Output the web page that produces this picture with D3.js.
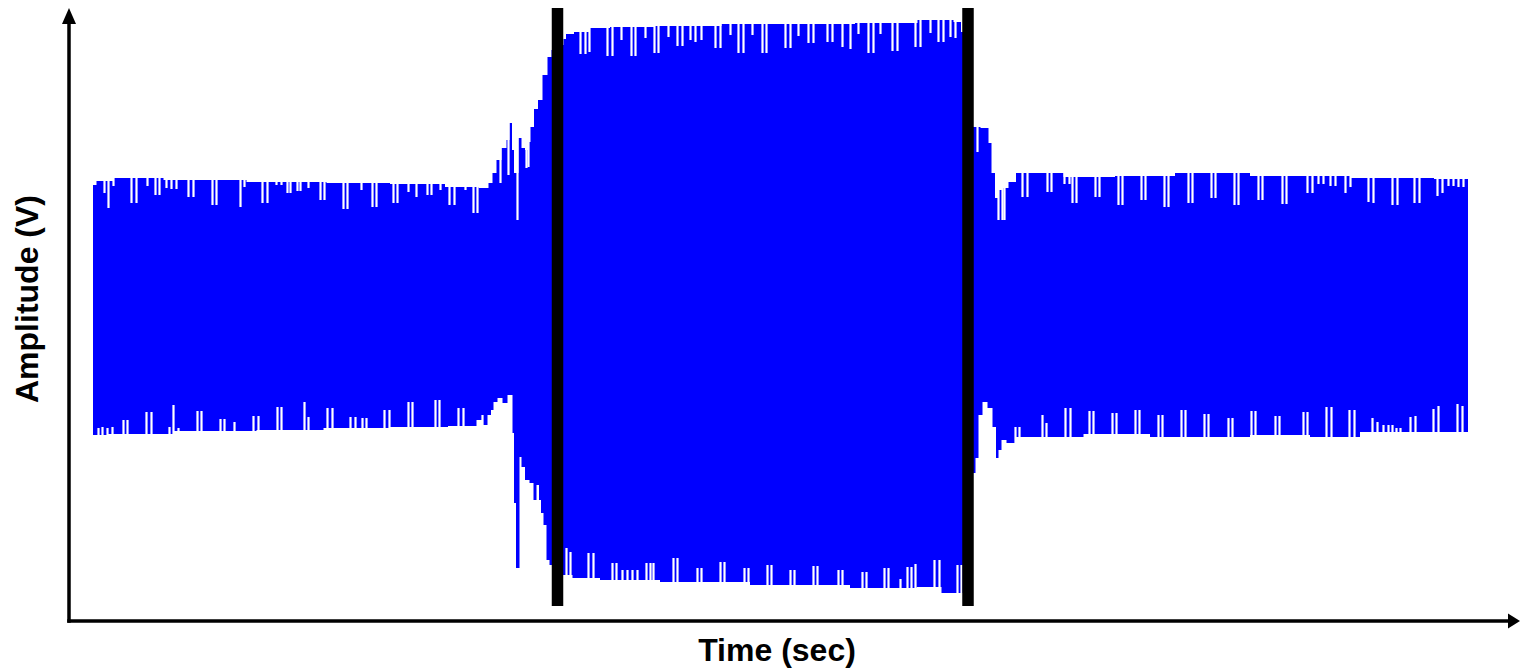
<!DOCTYPE html>
<html>
<head>
<meta charset="utf-8">
<script src="https://cdn.jsdelivr.net/npm/d3@7"></script>
<style>
  html, body { margin: 0; padding: 0; background: #fff; }
  svg { display: block; }
</style>
</head>
<body>
<div id="chart"></div>
<script>
// time in ms, amplitude in mV (arbitrary units, no ticks on the plot)
const upperEnvelope = [
  [24,122],[31,126],[58,129],[131,127],[224,125],[291,124],[351,123],[401,120],[418,119],
  [421,124],[426,134],[429,147],[436,159],[439,167],[442,184],[444,157],[446,134],[448,134],
  [451,169],[454,159],[458,157],[460,165],[463,180],[467,198],[471,207],[476,232],[481,250],[484,257],
  [494,262],[495,268],[499,273],[511,275],[529,279],[553,280],[619,281],[686,283],[753,283],
  [819,284],[878,287],[891,285],[893,275],[899,230],
  [905,180],[918,179],[921,164],[924,134],[928,109],[931,117],[936,119],[943,125],[951,134],
  [978,134],[1011,130],[1081,131],[1131,134],[1231,131],[1331,129],[1399,128]
];
const lowerEnvelope = [
  [24,-128],[54,-127],[154,-124],[221,-123],[288,-121],[354,-120],[404,-119],[411,-113],[416,-118],
  [421,-108],[423,-103],[426,-95],[431,-91],[436,-96],[441,-88],[443,-88],[444,-126],[446,-196],
  [448,-261],[450,-261],[451,-150],[454,-160],[458,-173],[463,-176],[466,-193],[469,-178],[471,-193],
  [473,-206],[476,-218],[479,-253],[482,-258],
  [496,-268],[511,-271],[551,-273],[631,-275],[731,-278],[831,-281],[864,-280],[881,-286],[892,-286],[899,-230],
  [905,-166],[908,-151],[911,-108],[916,-95],[921,-101],[926,-120],[928,-151],[931,-143],[934,-133],
  [941,-136],[951,-130],[998,-130],[1031,-127],[1131,-130],[1231,-128],[1251,-130],[1331,-125],[1399,-125]
];
// samples that fall short of the upper envelope (time, peak)
const upperDips = [
  [35,114],[39,99],[44,121],[62,104],[67,104],[78,121],[86,112],[90,112],[97,119],[102,118],[107,118],
  [119,110],[124,110],[143,102],[147,102],[171,100],[175,120],[193,104],[198,104],[207,122],[212,122],
  [218,114],[221,114],[228,116],[231,116],[239,119],[251,107],[255,107],[274,98],[278,98],[292,117],
  [303,100],[307,100],[324,104],[328,104],[339,115],[347,110],[358,112],[362,112],[371,117],[380,102],
  [385,102],[396,117],[404,94],[408,94],
  [431,124],[439,132],[448,87],[457,139],[459,140],
  [511,253],[516,253],[520,255],[538,251],[543,251],[552,267],[562,251],[566,251],[576,269],[585,254],
  [589,254],[599,270],[608,261],[613,261],[621,267],[626,265],[632,267],[646,259],[651,259],[661,272],
  [669,254],[674,254],[683,272],[693,254],[697,254],[716,259],[721,259],[729,271],[739,264],[744,264],
  [758,265],[763,265],[773,260],[781,258],[789,273],[799,254],[804,254],[811,273],[823,256],[828,256],
  [846,260],[851,260],[861,274],[869,265],[874,265],[881,270],[886,269],
  [908,155],[929,87],[933,87],[935,87],[953,110],[958,110],[978,115],[982,115],[995,123],[1000,123],
  [1003,104],[1007,104],[1026,110],[1030,110],[1049,102],[1053,102],[1072,107],[1076,107],[1095,100],
  [1099,100],[1119,104],[1123,104],[1142,109],[1146,109],[1165,102],[1169,102],[1189,107],[1193,107],
  [1213,103],[1217,103],[1238,114],[1243,114],[1249,123],[1254,123],[1261,121],[1266,121],[1276,114],
  [1281,120],[1299,105],[1304,104],[1323,102],[1328,102],[1345,104],[1350,104],[1368,111],[1373,114],
  [1379,121],[1384,121],[1389,120],[1394,120]
];
// samples that fall short of the lower envelope (time, trough)
const lowerDips = [
  [29,-121],[33,-120],[38,-121],[43,-120],[54,-113],[58,-113],[77,-105],[82,-105],[100,-120],[104,-98],
  [109,-121],[128,-104],[132,-104],[151,-112],[155,-112],[165,-115],[184,-109],[189,-109],[208,-100],
  [212,-100],[235,-95],[239,-110],[258,-101],[263,-101],[281,-110],[286,-110],[293,-111],[297,-111],
  [315,-103],[320,-103],[339,-95],[343,-95],[366,-93],[370,-93],[389,-101],[394,-101],[413,-108],
  [497,-241],[501,-245],[519,-246],[524,-246],[543,-256],[547,-256],[553,-263],[558,-263],[563,-263],
  [568,-263],[577,-256],[581,-256],[584,-256],[604,-251],[608,-251],[628,-261],[632,-261],[651,-255],
  [655,-255],[675,-261],[679,-261],[698,-258],[702,-258],[721,-263],[725,-263],[744,-259],[748,-259],
  [769,-263],[773,-263],[793,-265],[797,-265],[815,-261],[819,-261],[831,-272],[838,-260],[842,-260],
  [846,-257],[865,-253],[870,-253],[888,-258],[892,-258],
  [946,-120],[950,-120],[973,-108],[977,-116],[996,-101],[1001,-101],[1020,-104],[1024,-104],
  [1043,-106],[1047,-106],[1066,-103],[1070,-103],[1089,-108],[1093,-108],[1112,-103],[1116,-103],
  [1135,-107],[1139,-107],[1159,-111],[1163,-111],[1182,-104],[1186,-104],[1206,-109],[1210,-109],
  [1234,-105],[1238,-105],[1257,-100],[1262,-100],[1280,-103],[1285,-103],[1303,-111],[1308,-115],
  [1314,-118],[1319,-118],[1323,-118],[1327,-121],[1331,-121],[1341,-110],[1346,-109],[1364,-102],
  [1369,-99],[1388,-97],[1393,-99]
];
// event markers (time)
const markerTimes = [488.5, 899];
const markerSpan = [299, -299];

const xLabel = "Time (sec)";
const yLabel = "Amplitude (V)";

const width = 1520, height = 670;

const svg = d3.select("#chart").append("svg").attr("width", width).attr("height", height);

const x = d3.scaleLinear().domain([0, 1450]).range([69, 1519]);
const y = d3.scaleLinear().domain([-314, 297]).range([621, 10]);

const blue = "#0000ff";

// envelope, drawn as two halves meeting at zero; stepped like the sampled trace
const upperArea = d3.area()
  .curve(d3.curveStep)
  .x(d => x(d[0]))
  .y0(y(-20))
  .y1(d => y(d[1]));
const lowerArea = d3.area()
  .curve(d3.curveStep)
  .x(d => x(d[0]))
  .y0(y(20))
  .y1(d => y(d[1]));

const waveG = svg.append("g").attr("class", "wave");
waveG.append("path").datum(upperEnvelope).attr("d", upperArea).attr("fill", blue);
waveG.append("path").datum(lowerEnvelope).attr("d", lowerArea).attr("fill", blue);

// short samples show as pale stripes
const dipG = svg.append("g").attr("class", "dips").attr("stroke", "#fff").attr("stroke-width", 2.2);
dipG.selectAll("line.up").data(upperDips).join("line")
  .attr("class", "up")
  .attr("x1", d => Math.round(x(d[0])) + 0.5).attr("x2", d => Math.round(x(d[0])) + 0.5)
  .attr("y1", d => y(d[1])).attr("y2", y(296));
dipG.selectAll("line.down").data(lowerDips).join("line")
  .attr("class", "down")
  .attr("x1", d => Math.round(x(d[0])) + 0.5).attr("x2", d => Math.round(x(d[0])) + 0.5)
  .attr("y1", d => y(d[1])).attr("y2", y(-305));

// thick black markers
svg.append("g").attr("class", "markers").selectAll("line").data(markerTimes).join("line")
  .attr("x1", d => x(d)).attr("x2", d => x(d))
  .attr("y1", y(markerSpan[0])).attr("y2", y(markerSpan[1]))
  .attr("stroke", "#000").attr("stroke-width", 11.5);

// axes: plain lines with arrow heads, no ticks
const xAxis = svg.append("g").attr("transform", `translate(0,${y(-314)})`)
  .call(d3.axisBottom(x).tickValues([]).tickSizeOuter(0));
const yAxis = svg.append("g").attr("transform", `translate(${x(0)},0)`)
  .call(d3.axisLeft(y).tickValues([]).tickSizeOuter(0));
[xAxis, yAxis].forEach(g => g.select(".domain").attr("stroke", "#000").attr("stroke-width", 3.5));
xAxis.select(".domain").attr("d", `M${x(0) - 1.75},0H${x(1440)}`);
yAxis.select(".domain").attr("d", `M0,${y(-314) - y(-314) + 1.75}V${y(284) - y(-314)}`);
yAxis.attr("transform", `translate(${x(0)},${y(-314)})`);

// arrow heads
svg.append("path")
  .attr("d", `M${x(1451)},${y(-314)}L${x(1439)},${y(-314) - 7.5}L${x(1439)},${y(-314) + 7.5}Z`)
  .attr("fill", "#000");
svg.append("path")
  .attr("d", `M${x(0)},${y(299)}L${x(0) - 7},${y(283)}L${x(0) + 7},${y(283)}Z`)
  .attr("fill", "#000");

// axis titles
svg.append("text")
  .attr("x", x(708)).attr("y", 661)
  .attr("text-anchor", "middle")
  .attr("font-family", "Liberation Sans, Arial, sans-serif")
  .attr("font-weight", "bold").attr("font-size", 32)
  .text(xLabel);
svg.append("text")
  .attr("transform", `translate(38,${y(8)}) rotate(-90)`)
  .attr("text-anchor", "middle")
  .attr("font-family", "Liberation Sans, Arial, sans-serif")
  .attr("font-weight", "bold").attr("font-size", 32)
  .text(yLabel);
</script>
</body>
</html>
